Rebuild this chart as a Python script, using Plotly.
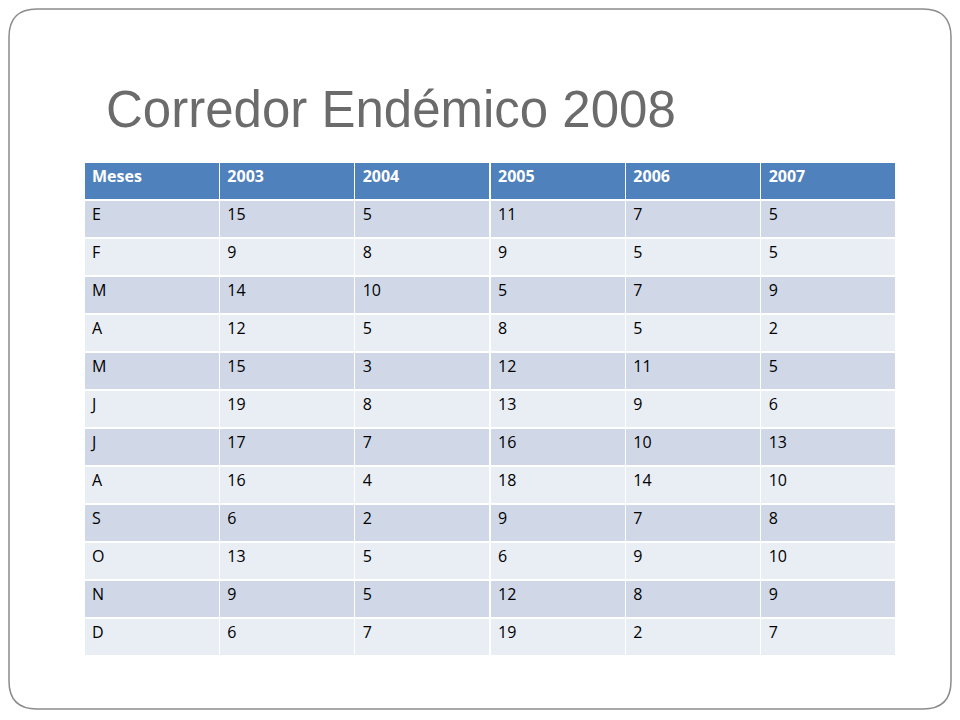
import plotly.graph_objects as go

meses = ["E", "F", "M", "A", "M", "J", "J", "A", "S", "O", "N", "D"]
y2003 = [15, 9, 14, 12, 15, 19, 17, 16, 6, 13, 9, 6]
y2004 = [5, 8, 10, 5, 3, 8, 7, 4, 2, 5, 5, 7]
y2005 = [11, 9, 5, 8, 12, 13, 16, 18, 9, 6, 12, 19]
y2006 = [7, 5, 7, 5, 11, 9, 10, 14, 7, 9, 8, 2]
y2007 = [5, 5, 9, 2, 5, 6, 13, 10, 8, 10, 9, 7]
header = ["Meses", "2003", "2004", "2005", "2006", "2007"]

W, H = 960, 720
OFF = 8  # page body margin shifts the figure
row_colors = ["#D0D8E8" if i % 2 == 0 else "#E9EDF4" for i in range(len(meses))]

def px(x): return (x - OFF) / W
def py(y): return 1 - (y - OFF) / H

fig = go.Figure(go.Table(
    domain=dict(x=[px(84), px(896)], y=[py(656), py(162)]),
    columnwidth=[1] * 6,
    header=dict(values=header, fill_color="#4F81BD", line=dict(color="white", width=1.5),
                align="left", height=38,
                font=dict(family="Open Sans", size=16, color="white", weight="bold")),
    cells=dict(values=[meses, y2003, y2004, y2005, y2006, y2007],
               fill_color=[row_colors] * 6, line=dict(color="white", width=1.5),
               align="left", height=38,
               font=dict(family="Open Sans", size=16, color="black")),
))

# rounded slide frame
x0, y0, x1, y1, r = 9, 9, 951, 709, 28
path = (f"M {px(x0 + r)},{py(y0)} L {px(x1 - r)},{py(y0)} "
        f"Q {px(x1)},{py(y0)} {px(x1)},{py(y0 + r)} L {px(x1)},{py(y1 - r)} "
        f"Q {px(x1)},{py(y1)} {px(x1 - r)},{py(y1)} L {px(x0 + r)},{py(y1)} "
        f"Q {px(x0)},{py(y1)} {px(x0)},{py(y1 - r)} L {px(x0)},{py(y0 + r)} "
        f"Q {px(x0)},{py(y0)} {px(x0 + r)},{py(y0)} Z")

fig.update_layout(
    width=W, height=H, margin=dict(l=0, r=0, t=0, b=0),
    paper_bgcolor="white",
    shapes=[dict(type="path", xref="paper", yref="paper", path=path,
                 line=dict(color="#8c8c8c", width=1.5), layer="below")],
    annotations=[dict(text="Corredor Endémico 2008", x=px(104), y=py(110), xref="paper", yref="paper",
                      xanchor="left", yanchor="middle", showarrow=False,
                      font=dict(family="Liberation Sans", size=51, color="#6b6b6b"))],
)

fig.write_html("out.html")
